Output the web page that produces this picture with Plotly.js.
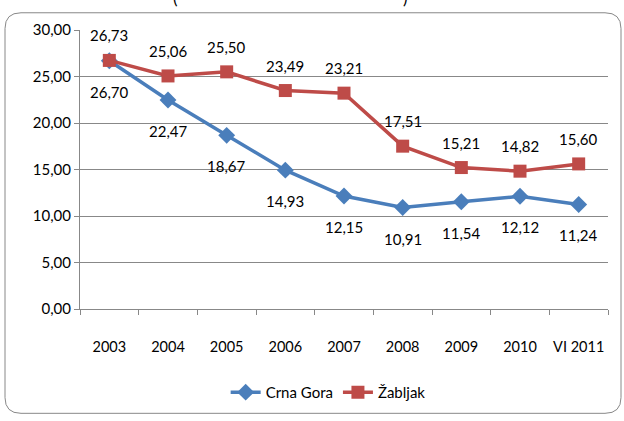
<!DOCTYPE html>
<html><head><meta charset="utf-8">
<script src="https://cdn.plot.ly/plotly-3.0.1.min.js"></script>
<style>html,body{margin:0;padding:0;background:#fff;}#c{width:624px;height:421px;}</style>
</head><body><div id="c"></div>
<script>
const categories = ["2003","2004","2005","2006","2007","2008","2009","2010","VI 2011"];
const crnaGora = [26.70,22.47,18.67,14.93,12.15,10.91,11.54,12.12,11.24];
const zabljak = [26.73,25.06,25.50,23.49,23.21,17.51,15.21,14.82,15.60];
const seriesNames = ["Crna Gora","Žabljak"];
const yTicks = [0,5,10,15,20,25,30];

const W=624,H=421,L=80,R=608,T=29.5,B=313;
const px=x=>(x-L)/(R-L), py=y=>(B-y)/(B-T);
function roundRect(x0,y0,x1,y1,r){
  return `M${px(x0+r)},${py(y0)} L${px(x1-r)},${py(y0)} Q${px(x1)},${py(y0)} ${px(x1)},${py(y0+r)} L${px(x1)},${py(y1-r)} Q${px(x1)},${py(y1)} ${px(x1-r)},${py(y1)} L${px(x0+r)},${py(y1)} Q${px(x0)},${py(y1)} ${px(x0)},${py(y1-r)} L${px(x0)},${py(y0+r)} Q${px(x0)},${py(y0)} ${px(x0+r)},${py(y0)} Z`;
}
const fmt=v=>v.toFixed(2).replace('.',',');
const font={family:"Lato, 'Open Sans', sans-serif",size:15,color:"#000"};
const traces=[
 {x:categories,y:crnaGora,name:seriesNames[0],type:"scatter",mode:"lines+markers",
  line:{color:"#4A7EBB",width:3.5},marker:{symbol:"diamond",size:13,color:"#4A7EBB"}},
 {x:categories,y:zabljak,name:seriesNames[1],type:"scatter",mode:"lines+markers",
  line:{color:"#BE4B48",width:3.5},marker:{symbol:"square",size:13,color:"#BE4B48"}}
];
const labelAnn=[];
categories.forEach((c,i)=>{
  labelAnn.push({x:i,y:crnaGora[i],xref:"x",yref:"y",text:fmt(crnaGora[i]),showarrow:false,yshift:-31,font:font});
  labelAnn.push({x:i,y:zabljak[i],xref:"x",yref:"y",text:fmt(zabljak[i]),showarrow:false,yshift:25,font:font});
});
const layout={
 width:W,height:H,margin:{l:L,r:W-R,t:T,b:H-B},
 paper_bgcolor:"#fff",plot_bgcolor:"#fff",
 font:font,separators:", ",showlegend:true,
 legend:{orientation:"h",x:0.47,xanchor:"center",y:py(381),yanchor:"top",font:font},
 xaxis:{type:"category",showgrid:false,showline:true,linecolor:"#888",linewidth:1,
   ticks:"outside",ticklen:5,tickcolor:"#888",tickson:"boundaries",tickfont:{family:font.family,size:14.5,color:"#000"},
   tickangle:0,ticklabelstandoff:25,range:[-0.5,8.5],zeroline:false},
 yaxis:{range:[0,30],tickvals:yTicks,ticktext:yTicks.map(fmt),showgrid:true,gridcolor:"#888",gridwidth:1,
   showline:true,linecolor:"#888",ticks:"outside",ticklen:5,tickcolor:"#888",tickfont:font,zeroline:false},
 shapes:[{type:"path",xref:"paper",yref:"paper",path:roundRect(5,12,621,419,16),line:{color:"#888",width:1}}],
 annotations:labelAnn.concat([
  {xref:"paper",yref:"paper",x:px(171),y:py(9),yanchor:"bottom",text:"(",showarrow:false,font:{family:"Lato",size:17,color:"#000"}},
  {xref:"paper",yref:"paper",x:px(405),y:py(9),yanchor:"bottom",text:")",showarrow:false,font:{family:"Lato",size:17,color:"#000"}}
 ])
};
Plotly.newPlot("c",traces,layout,{displayModeBar:false,staticPlot:true});
</script></body></html>
